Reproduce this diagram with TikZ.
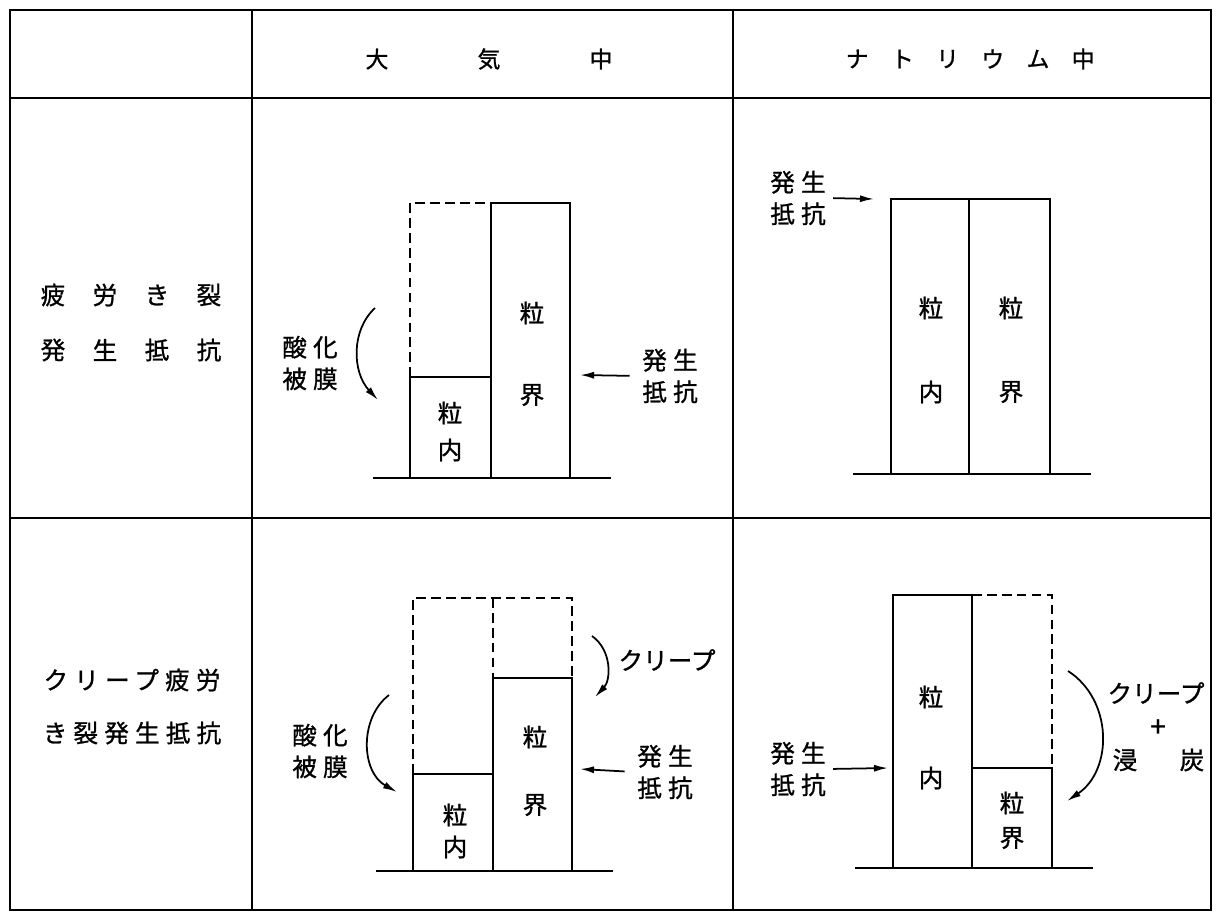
\documentclass[tikz,border=0pt]{standalone}
\usepackage{fontspec}
\newfontfamily\jp[FakeBold=1]{Noto Sans CJK JP}
\newfontfamily\jpw[LetterSpace=25,FakeBold=1]{Noto Sans CJK JP}
\usetikzlibrary{arrows.meta}

\begin{document}
\begin{tikzpicture}[x=0.02cm, y=-0.02cm,
  tbl/.style={line width=1.6pt},
  box/.style={line width=1.4pt},
  dbox/.style={line width=1.4pt, dash pattern=on 5.5pt off 3pt},
  arr/.style={-{Latex[length=8pt,width=4pt]}, line width=1pt},
  lbl/.style={font=\jp\fontsize{14}{18}\selectfont, inner sep=1pt, align=center},
  wlbl/.style={font=\jpw\fontsize{14}{18}\selectfont, inner sep=1pt, align=center},
  hdr/.style={font=\jp\fontsize{13}{16}\selectfont, inner sep=1pt}
]
  \useasboundingbox (0,0) rectangle (1216,917);

  % Table grid
  \draw[tbl] (10,10) rectangle (1211,910);
  \draw[tbl] (10,98) -- (1211,98);
  \draw[tbl] (10,518) -- (1211,518);
  \draw[tbl] (252,10) -- (252,910);
  \draw[tbl] (733,10) -- (733,910);

  % Column heads
  \foreach \c [count=\i] in {大,気,中}
    \node[hdr] (air\i) at ({265+112*\i}, 59) {\c};
  \foreach \c [count=\i] in {ナ,ト,リ,ウ,ム,中}
    \node[hdr] (na\i) at ({812+45.2*\i}, 59) {\c};

  % Row heads
  \foreach \c [count=\i] in {疲,労,き,裂}
    \node[lbl] (fa\i) at ({1+52*\i}, 295) {\c};
  \foreach \c [count=\i] in {発,生,抵,抗}
    \node[lbl] (fb\i) at ({1+52*\i}, 350) {\c};
  \node[wlbl] (cf1) at (132,680) {クリープ疲労};
  \node[wlbl] (cf2) at (132,733) {き裂発生抵抗};

  % Fatigue, in air
  \draw[dbox] (410,377) -- (410,203) -- (491,203);
  \draw[box] (491,203) rectangle (570,478);
  \draw[box] (410,377) rectangle (491,478);
  \draw[box] (373,478) -- (611,478);
  \node[lbl] (gbA) at (532,313) {粒};
  \node[lbl] (gbB) at (532,395) {界};
  \node[lbl] (giA) at (450,413) {粒};
  \node[lbl] (giB) at (450,450) {内};
  \node[wlbl] (ox1) at (310,363) {酸化\\被膜};
  \coordinate (ox1s) at (375,308);
  \coordinate (ox1e) at (378,400);
  \draw[arr] (ox1s) .. controls (351,330) and (352,372) .. (ox1e);
  \node[wlbl] (rs1) at (670,376) {発生\\抵抗};
  \coordinate (rs1h) at (580,375);
  \draw[arr, shorten <=6pt] (rs1.west) -- (rs1h);

  % Fatigue, in sodium
  \draw[box] (891,199) rectangle (969,474);
  \draw[box] (969,199) rectangle (1050,474);
  \draw[box] (853,474) -- (1091,474);
  \node[lbl] (giC) at (931,308) {粒};
  \node[lbl] (giD) at (931,392) {内};
  \node[lbl] (gbC) at (1011,308) {粒};
  \node[lbl] (gbD) at (1011,392) {界};
  \node[wlbl] (rs2) at (798,198) {発生\\抵抗};
  \coordinate (rs2h) at (874,199);
  \draw[arr, shorten <=3pt] (rs2.east) -- (rs2h);

  % Creep fatigue, in air
  \draw[dbox] (413,774) -- (413,598) -- (572,598) -- (572,678);
  \draw[dbox] (493,598) -- (493,678);
  \draw[box] (493,678) rectangle (572,871);
  \draw[box] (413,774) rectangle (493,871);
  \draw[box] (376,871) -- (613,871);
  \node[lbl] (gbE) at (535,737) {粒};
  \node[lbl] (gbF) at (535,805) {界};
  \node[lbl] (giE) at (455,815) {粒};
  \node[lbl] (giF) at (455,847) {内};
  \node[wlbl] (ox2) at (320,751) {酸化\\被膜};
  \coordinate (ox2s) at (389,695);
  \coordinate (ox2e) at (397,792);
  \draw[arr] (ox2s) .. controls (359,718) and (361,772) .. (ox2e);
  \node[lbl] (cr1) at (667,660) {クリープ};
  \coordinate (cr1s) at (592,636);
  \coordinate (cr1e) at (595,697);
  \draw[arr] (cr1s) .. controls (612,650) and (611,680) .. (cr1e);
  \node[wlbl] (rs3) at (665,772) {発生\\抵抗};
  \coordinate (rs3h) at (580,769);
  \draw[arr, shorten <=6pt] (rs3.west) -- (rs3h);

  % Creep fatigue, in sodium
  \draw[box] (893,595) rectangle (972,868);
  \draw[box] (972,768) rectangle (1052,868);
  \draw[dbox] (972,595) -- (1052,595) -- (1052,768);
  \draw[box] (855,868) -- (1093,868);
  \node[lbl] (giG) at (931,697) {粒};
  \node[lbl] (giH) at (931,778) {内};
  \node[lbl] (gbG) at (1012,803) {粒};
  \node[lbl] (gbH) at (1012,838) {界};
  \node[wlbl] (rs4) at (798,769) {発生\\抵抗};
  \coordinate (rs4h) at (888,768);
  \draw[arr, shorten <=3pt] (rs4.east) -- (rs4h);
  \node[lbl] (cr2) at (1156,693) {クリープ};
  \node[lbl, font=\jp\fontsize{16}{18}\selectfont] (cr2p) at (1158,728) {+};
  \node[lbl] (cb1) at (1125,760) {浸};
  \node[lbl] (cb2) at (1192,760) {炭};
  \coordinate (cr2s) at (1068,671);
  \coordinate (cr2e) at (1067,801);
  \draw[arr] (cr2s) .. controls (1113,700) and (1113,770) .. (cr2e);
\end{tikzpicture}
\end{document}
